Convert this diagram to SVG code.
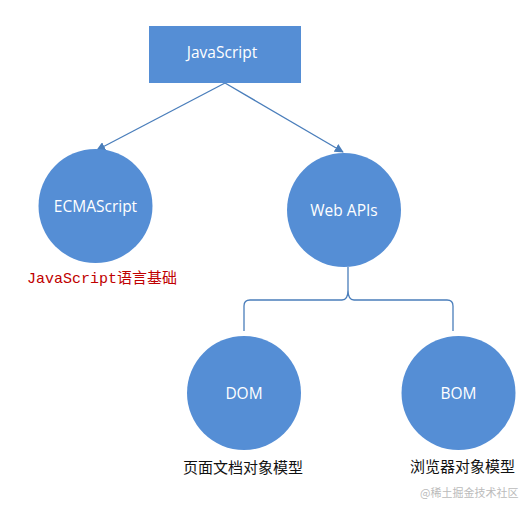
<svg xmlns="http://www.w3.org/2000/svg" width="522" height="506" viewBox="0 0 522 506">
<style>
.node{fill:#558ED5;}
.lbl{font-family:"Open Sans","Liberation Sans",sans-serif;font-size:15.5px;fill:#ffffff;text-anchor:middle;}
.conn{fill:none;stroke:#4A7EBB;stroke-width:1.3;}
.cap{font-family:"Noto Sans CJK SC","Noto Sans",sans-serif;font-size:15px;fill:#111111;}
</style>
<defs>
<marker id="arr" viewBox="0 0 10 10" refX="9" refY="5" markerWidth="9" markerHeight="9" markerUnits="userSpaceOnUse" orient="auto">
<path d="M0,0 L10,5 L0,10 z" fill="#4A7EBB"/>
</marker>
</defs>
<rect width="522" height="506" fill="#ffffff"/>
<g id="connectors">
<line class="conn" x1="225" y1="83" x2="97" y2="150" marker-end="url(#arr)"/>
<line class="conn" x1="225" y1="83" x2="343" y2="152" marker-end="url(#arr)"/>
<path class="conn" d="M244,331 L244,306 Q244,300 250,300 L342,300 Q348,300 348,290 L348,267 M348,290 Q348,300 354,300 L447,300 Q453,300 453,306 L453,331"/>
</g>
<g id="javascript">
<rect class="node" x="149" y="26" width="152" height="57"/>
<text class="lbl" x="222" y="58">JavaScript</text>
</g>
<g id="ecmascript">
<circle class="node" cx="95.5" cy="206" r="57"/>
<text class="lbl" x="95.5" y="212">ECMAScript</text>
<text x="27" y="283" font-size="15" fill="#C00000"><tspan font-family="Liberation Mono,monospace">JavaScript</tspan><tspan font-family="Noto Sans CJK SC,sans-serif">语言基础</tspan></text>
</g>
<g id="webapis">
<circle class="node" cx="344" cy="210" r="57"/>
<text class="lbl" x="344" y="216">Web APIs</text>
</g>
<g id="dom">
<circle class="node" cx="244" cy="393" r="57"/>
<text class="lbl" x="244" y="399">DOM</text>
<text class="cap" x="183" y="473">页面文档对象模型</text>
</g>
<g id="bom">
<circle class="node" cx="458.5" cy="393" r="57"/>
<text class="lbl" x="458.5" y="399">BOM</text>
<text class="cap" x="410" y="472">浏览器对象模型</text>
</g>
<text x="420" y="497" font-family="Noto Sans CJK SC,sans-serif" font-size="11" fill="#BBBBBB">@稀土掘金技术社区</text>
</svg>
